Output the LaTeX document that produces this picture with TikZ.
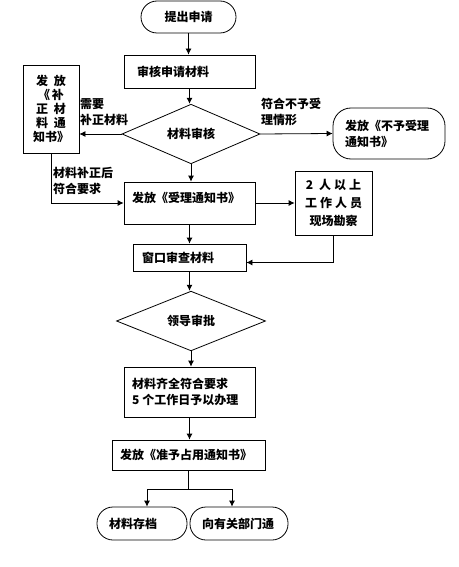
\documentclass[tikz,border=0pt]{standalone}
\usepackage{fontspec}
\newfontfamily\cjk{Noto Sans CJK SC}
\usetikzlibrary{shapes.geometric,arrows.meta}

\begin{document}
\begin{tikzpicture}[x=1pt,y=-1pt,
    every node/.style={font=\cjk\bfseries\fontsize{12}{16}\selectfont},
    box/.style={draw, line width=0.8pt, inner ysep=0pt, align=left},
    lbox/.style={box, text width=#1pt},
    term/.style={box, rounded corners=16pt},
    decide/.style={diamond, draw, line width=0.8pt, inner sep=0pt},
    arr/.style={line width=0.8pt, -{Latex[length=6pt,width=6pt]}},
    line/.style={line width=0.8pt}]
    \useasboundingbox (0,0) rectangle (458,567);

    % main column
    \node (apply) at (188.5,17) [term, minimum width=95pt, minimum height=32pt] {提出申请};
    \node (check) at (189.5,71.5) [lbox=105, inner xsep=13pt, minimum height=33pt] {审核申请材料};
    \node (review) at (191,134) [decide, minimum width=138pt, minimum height=51pt] {材料审核};
    \node (accept) at (189.5,203) [lbox=115, inner xsep=8pt, minimum height=42pt, text depth=12pt] {发放《受理通知书》};
    \node (window) at (189.5,257.5) [lbox=95, inner xsep=9pt, minimum height=27pt] {窗口审查材料};
    \node (leader) at (191,321) [decide, minimum width=149pt, minimum height=53pt] {领导审批};
    \node (handle) at (189.5,392) [lbox=115, inner xsep=8pt, minimum height=50pt] {材料齐全符合要求\\5\hspace{3pt}个工作日予以办理};
    \node (permit) at (188.5,455) [lbox=137, inner xsep=8pt, minimum height=30pt] {发放《准予占用通知书》};
    \node (archive) at (142,523.5) [term, text width=66pt, inner xsep=12pt, minimum height=33pt] {材料存档};
    \node (notify) at (239,523.5) [term, text width=74pt, inner xsep=12pt, minimum height=33pt] {向有关部门通};

    % side boxes
    \node (fixnote) at (51,109) [box, align=center, minimum width=56pt, minimum height=88pt,
        font=\cjk\bfseries\fontsize{12}{14}\selectfont] {发\hspace{6pt}放\\《\hspace{2pt}补\\正\hspace{6pt}材\\料\hspace{6pt}通\\知书》};
    \node (refuse) at (389,133.5) [box, rounded corners=18pt, text width=88pt, inner xsep=12pt, minimum height=51pt] {发放《不予受理\\通知书》};
    \node (survey) at (333.5,203) [box, align=center, minimum width=77pt, minimum height=64pt,
        font=\cjk\bfseries\fontsize{12}{18}\selectfont] {2\hspace{6pt}人\hspace{3pt}以\hspace{3pt}上\\工\hspace{3pt}作\hspace{3pt}人\hspace{3pt}员\\现场勘察};

    % labels
    \node (needfix) at (80,126) [anchor=south west, align=left, inner sep=0pt] {需要\\补正材料};
    \node (norefuse) at (261,126) [anchor=south west, align=left, inner sep=0pt] {符合不予受\\理情形};
    \node (fixed) at (53,167) [anchor=north west, align=left, inner sep=0pt] {材料补正后\\符合要求};

    % connectors
    \draw[arr] (apply.south) -- (apply.south |- check.north);
    \draw[arr] (check.south) -- (check.south |- review.north);
    \draw[arr] (review.west) -- (review.west -| fixnote.east);
    \draw[arr] (review.east) -- (refuse.west);
    \draw[arr] (review.south) -- (review.south |- accept.north);
    \draw[arr] (fixnote.south) |- (accept.west);
    \draw[arr] (accept.east) -- (accept.east -| survey.west);
    \draw[arr] (accept.south) -- (window.north);
    \draw[arr] (survey.south) |- ([yshift=-5pt]window.east);
    \draw[arr] (window.south) -- (window.south |- leader.north);
    \draw[arr] (leader.south) -- (leader.south |- handle.north);
    \draw[arr] (handle.south) -- (handle.south |- permit.north);
    \coordinate (splitL) at (147,489);
    \coordinate (splitR) at (232,489);
    \draw[line] (permit.south) -- (permit.south |- splitL);
    \draw[line] (splitL) -- (splitR);
    \draw[arr] (splitL) -- (splitL |- archive.north);
    \draw[arr] (splitR) -- (splitR |- notify.north);
\end{tikzpicture}
\end{document}
